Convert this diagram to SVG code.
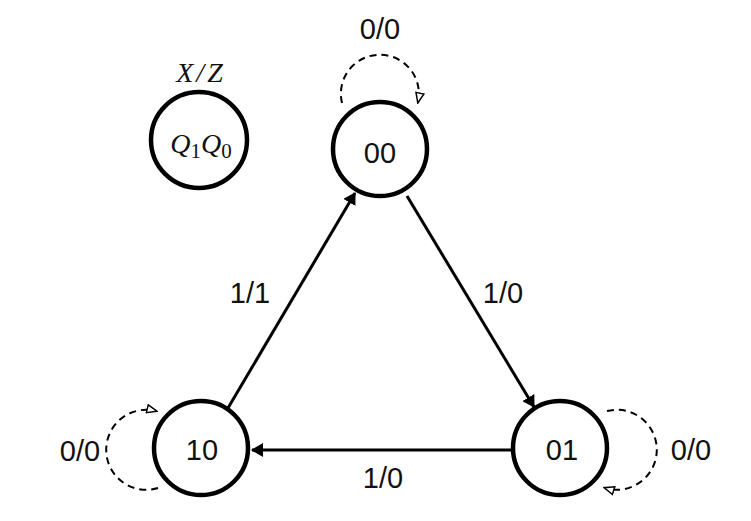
<svg xmlns="http://www.w3.org/2000/svg" width="751" height="521" viewBox="0 0 751 521">
<defs>
<marker id="solid" viewBox="0 0 12 14" refX="11" refY="7" markerWidth="12" markerHeight="14" markerUnits="userSpaceOnUse" orient="auto">
<path d="M0,0 L12,7 L0,14 Z" fill="#000"/>
</marker>
<marker id="hollow" viewBox="0 0 12 10" refX="10" refY="5" markerWidth="12" markerHeight="10" markerUnits="userSpaceOnUse" orient="auto">
<path d="M1,1 L11,5 L1,9 Z" fill="#fff" stroke="#000" stroke-width="1.5"/>
</marker>
<style>
.node{fill:#fff;stroke:#000;stroke-width:4.5}
.lbl{font-family:"Liberation Sans",Arial,sans-serif;font-size:29px;fill:#111;text-anchor:middle}
.math{font-family:"Liberation Serif","DejaVu Serif",serif;font-style:italic;font-size:28px;fill:#111;text-anchor:middle}
.edge{fill:none;stroke:#000;stroke-width:3}
.loop{fill:none;stroke:#000;stroke-width:2;stroke-dasharray:7,5}
</style>
</defs>
<rect width="751" height="521" fill="#fff"/>
<g id="legend">
<text class="math" x="201" y="82" letter-spacing="3">X/Z</text>
<circle class="node" cx="199" cy="140" r="48"/>
<text class="math" x="201" y="153" font-size="30">Q<tspan font-style="normal" font-size="21" dy="5">1</tspan><tspan dy="-5">Q</tspan><tspan font-style="normal" font-size="21" dy="5">0</tspan></text>
</g>
<g id="connectors">
<line class="edge" x1="228" y1="408" x2="355" y2="193" marker-end="url(#solid)"/>
<line class="edge" x1="407" y1="196" x2="534" y2="407" marker-end="url(#solid)"/>
<line class="edge" x1="513" y1="450" x2="252" y2="450" marker-end="url(#solid)"/>
<path class="loop" d="M342,103 A39,39 0 1 1 418,102" marker-end="url(#hollow)"/>
<path class="loop" d="M158,488 A40,40 0 1 1 156,411" marker-end="url(#hollow)"/>
<path class="loop" d="M607,411 A40,40 0 1 1 605,488" marker-end="url(#hollow)"/>
<text class="lbl" x="250" y="303">1/1</text>
<text class="lbl" x="503" y="303">1/0</text>
<text class="lbl" x="383" y="488">1/0</text>
<text class="lbl" x="380" y="39">0/0</text>
<text class="lbl" x="80" y="461">0/0</text>
<text class="lbl" x="691" y="460">0/0</text>
</g>
<g id="n00">
<circle class="node" cx="380" cy="149" r="47"/>
<text class="lbl" x="380" y="163">00</text>
</g>
<g id="n10">
<circle class="node" cx="201" cy="448" r="47"/>
<text class="lbl" x="202" y="460">10</text>
</g>
<g id="n01">
<circle class="node" cx="560" cy="448" r="47"/>
<text class="lbl" x="562" y="460">01</text>
</g>
</svg>
